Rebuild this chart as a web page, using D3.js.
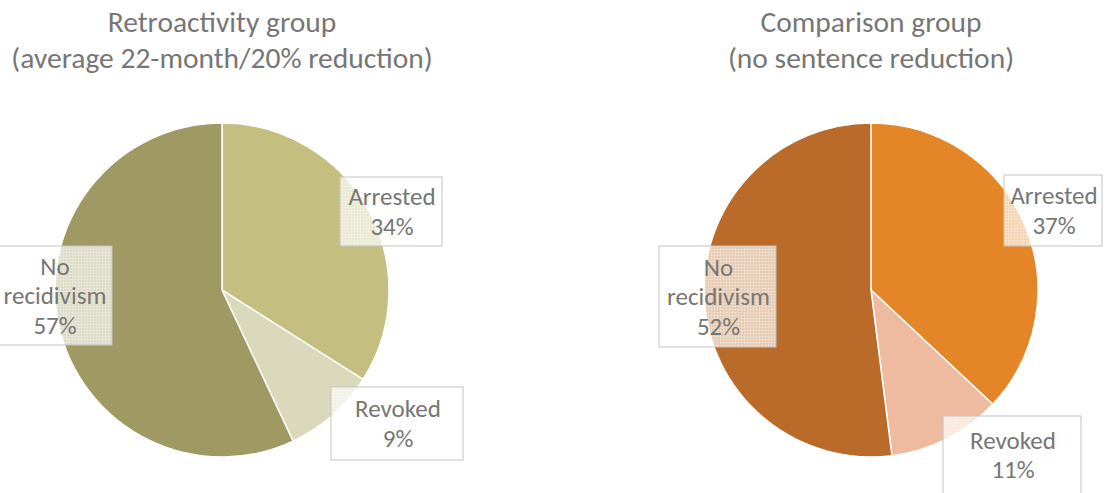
<!DOCTYPE html>
<html>
<head>
<meta charset="utf-8">
<script src="https://cdn.jsdelivr.net/npm/d3@7"></script>
<style>
  html, body { margin: 0; padding: 0; background: #ffffff; }
  svg { display: block; }
</style>
</head>
<body>
<svg id="chart" width="1106" height="493"></svg>
<script>
// ---- data ----
const categories = ["Arrested", "Revoked", "No recidivism"];
const retroValues = [34, 9, 57];
const comparisonValues = [37, 11, 52];
const retroTitle = ["Retroactivity group", "(average 22-month/20% reduction)"];
const comparisonTitle = ["Comparison group", "(no sentence reduction)"];
const retroColors = ["#c4be80", "#dbd9bb", "#9f9a63"];
const comparisonColors = ["#e48527", "#eebba0", "#ba6b2a"];

// ---- layout (positions only) ----
const FONT = "Carlito, Calibri, Lato, 'Open Sans', sans-serif";
const textColor = "#767676";
const pies = [
  { title: retroTitle, values: retroValues, colors: retroColors, cx: 222, cy: 290,
    labels: [ {cx: 391, cy: 211.5, w: 102, h: 69},
              {cx: 397, cy: 423.5, w: 132, h: 73},
              {cx: 54,  cy: 295.5, w: 116, h: 99} ] },
  { title: comparisonTitle, values: comparisonValues, colors: comparisonColors, cx: 871, cy: 290,
    labels: [ {cx: 1053, cy: 210.5, w: 98, h: 71},
              {cx: 1012, cy: 455,   w: 138, h: 78},
              {cx: 717.5, cy: 296.5, w: 117, h: 101} ] }
];
const radius = 167;

const svg = d3.select("#chart");

// hatch-like fill pattern for label boxes
const defs = svg.append("defs");
const pat = defs.append("pattern").attr("id", "lblfill")
  .attr("patternUnits", "userSpaceOnUse").attr("width", 3).attr("height", 3);
pat.append("rect").attr("width", 3).attr("height", 3).attr("fill", "#ffffff").attr("fill-opacity", 0.64);
pat.append("rect").attr("width", 3).attr("height", 1).attr("fill", "#ffffff").attr("fill-opacity", 0.25);
pat.append("rect").attr("width", 1).attr("height", 3).attr("fill", "#ffffff").attr("fill-opacity", 0.25);

const pieGen = d3.pie().sort(null).value(d => d);
const arcGen = d3.arc().innerRadius(0).outerRadius(radius);

pies.forEach(p => {
  const g = svg.append("g").attr("transform", `translate(${p.cx},${p.cy})`);
  const color = d3.scaleOrdinal().domain(categories).range(p.colors);
  const arcs = pieGen(p.values);

  g.selectAll("path.slice").data(arcs).enter().append("path")
    .attr("class", "slice")
    .attr("d", arcGen)
    .attr("fill", (d, i) => color(categories[i]))
    .attr("stroke", "#ffffff").attr("stroke-width", 1.5);

  // title
  svg.append("text")
    .attr("x", p.cx).attr("y", 32)
    .attr("text-anchor", "middle")
    .attr("font-family", FONT).attr("font-size", 29.5)
    .attr("fill", textColor)
    .selectAll("tspan").data(p.title).enter().append("tspan")
    .attr("x", p.cx).attr("dy", (d, i) => i === 0 ? 0 : 36)
    .text(d => d);

  // labels
  arcs.forEach((a, i) => {
    const L = p.labels[i];
    const lines = categories[i] === "No recidivism"
      ? ["No", "recidivism", d3.format(".0f")(a.data) + "%"]
      : [categories[i], d3.format(".0f")(a.data) + "%"];
    svg.append("rect")
      .attr("x", L.cx - L.w / 2).attr("y", L.cy - L.h / 2)
      .attr("width", L.w).attr("height", L.h)
      .attr("fill", "url(#lblfill)")
      .attr("stroke", "#c3c3c3").attr("stroke-width", 1);
    const lh = 29.5;
    const t = svg.append("text")
      .attr("text-anchor", "middle")
      .attr("font-family", FONT).attr("font-size", 25)
      .attr("fill", textColor);
    lines.forEach((s, k) => {
      t.append("tspan")
        .attr("x", L.cx + 1)
        .attr("y", L.cy + (k - (lines.length - 1) / 2) * lh + 8.5)
        .text(s);
    });
  });
});
</script>
</body>
</html>
